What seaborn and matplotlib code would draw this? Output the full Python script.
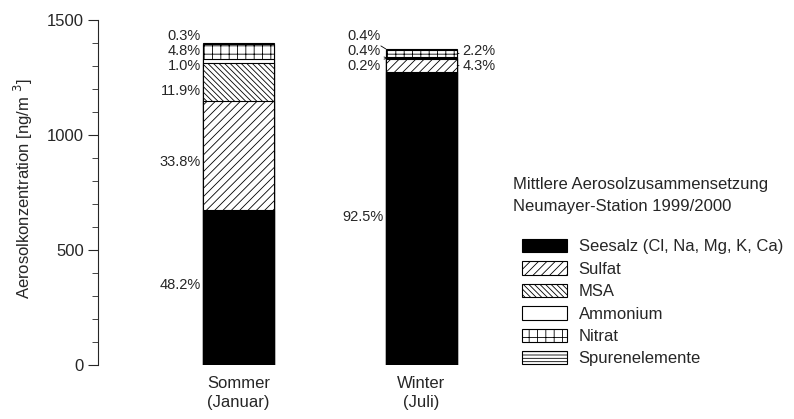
import numpy as np
import pandas as pd
import matplotlib.pyplot as plt
from matplotlib.patches import Patch
import seaborn as sns

seasons = ["Sommer\n(Januar)", "Winter\n(Juli)"]
components = ["Seesalz (Cl, Na, Mg, K, Ca)", "Sulfat", "MSA", "Ammonium", "Nitrat", "Spurenelemente"]
sommer = [675, 473, 167, 14, 67, 4]
winter = [1272, 59, 3, 5, 30, 5]
sommer_pct = ["48.2%", "33.8%", "11.9%", "1.0%", "4.8%", "0.3%"]
winter_pct = ["92.5%", "4.3%", "0.2%", "0.4%", "2.2%", "0.4%"]

hatches = ["", "////", "\\\\\\\\\\\\", "", "++", "-----"]
faces = ["black", "white", "white", "white", "white", "white"]

sns.set_theme(style="ticks")
plt.rcParams["font.family"] = ["Liberation Sans", "DejaVu Sans"]
plt.rcParams["hatch.linewidth"] = 0.6

rows = []
for season, vals in zip(seasons, [sommer, winter]):
    top = np.cumsum(vals)
    for comp, t in zip(components, top):
        rows.append({"season": season, "component": comp, "top": t})
df = pd.DataFrame(rows)

fig = plt.figure(figsize=(7.94, 4.19), dpi=100)
ax = fig.add_axes([98 / 794, 54 / 419, 382 / 794, 345 / 419])

bw = 0.39
# draw from the top layer down so lower segments cover upper ones
for i in reversed(range(len(components))):
    sub = df[df["component"] == components[i]]
    sns.barplot(data=sub, x="season", y="top", order=seasons, color=faces[i],
                saturation=1, width=bw, errorbar=None, edgecolor="black",
                linewidth=0.8, hatch=hatches[i], ax=ax)

fs = 12
pfs = 10.5
ax.set_xlim(-0.77, 1.32)
ax.set_ylim(0, 1500)
ax.set_yticks([0, 500, 1000, 1500])
ax.set_yticks(np.arange(0, 1501, 100), minor=True)
ax.tick_params(axis="y", which="major", length=7, width=0.8, labelsize=fs, pad=3)
ax.tick_params(axis="y", which="minor", length=4, width=0.6)
ax.tick_params(axis="x", length=0, labelsize=fs, pad=8)
plt.setp(ax.get_xticklabels(), linespacing=1.35)
ax.set_xlabel("")
ax.set_ylabel("Aerosolkonzentration [ng/m $^3$]", fontsize=fs, labelpad=6)
ax.yaxis.set_label_coords(-0.165, 0.51)
for s in ["top", "right", "bottom"]:
    ax.spines[s].set_visible(False)
ax.spines["left"].set_linewidth(0.8)

# Sommer labels (left of bar)
sommer_label_y = [348, 883, 1190, 1302, 1367, 1432]
for txt, y in zip(sommer_pct, sommer_label_y):
    ax.text(-bw / 2 - 0.012, y, txt, ha="right", va="center", fontsize=pfs)

# Winter labels
wtop = np.cumsum(winter)
wbot = wtop - np.array(winter)
wmid = (wtop + wbot) / 2
left = 1 - bw / 2
right = 1 + bw / 2
ax.text(left - 0.012, 643, winter_pct[0], ha="right", va="center", fontsize=pfs)
lead = dict(arrowstyle="-", lw=0.6, color="black", shrinkA=0, shrinkB=0)
ax.annotate(winter_pct[5], xy=(left, wtop[5]), xytext=(left - 0.028, 1432),
            ha="right", va="center", fontsize=pfs, arrowprops=lead)
ax.annotate(winter_pct[3], xy=(left, wmid[3]), xytext=(left - 0.028, 1367),
            ha="right", va="center", fontsize=pfs, arrowprops=lead)
ax.annotate(winter_pct[2], xy=(left, wmid[2]), xytext=(left - 0.028, 1302),
            ha="right", va="center", fontsize=pfs, arrowprops=lead)
ax.annotate(winter_pct[4], xy=(right, wmid[4]), xytext=(right + 0.028, 1367),
            ha="left", va="center", fontsize=pfs, arrowprops=lead)
ax.annotate(winter_pct[1], xy=(right, wmid[1]), xytext=(right + 0.028, 1302),
            ha="left", va="center", fontsize=pfs, arrowprops=lead)

# legend
fig.text(513 / 794, 1 - 185 / 419, "Mittlere Aerosolzusammensetzung", fontsize=fs, va="center")
fig.text(513 / 794, 1 - 207 / 419, "Neumayer-Station 1999/2000", fontsize=fs, va="center")
handles = [Patch(facecolor=f, edgecolor="black", hatch=h, linewidth=0.8)
           for f, h in zip(faces, hatches)]
fig.legend(handles, components, loc="upper left", bbox_to_anchor=(522 / 794, 1 - 239 / 419),
           frameon=False, fontsize=fs, handlelength=2.7, handleheight=0.85,
           labelspacing=0.42, handletextpad=0.7, borderpad=0, borderaxespad=0)

plt.savefig("out.png", dpi=100)
